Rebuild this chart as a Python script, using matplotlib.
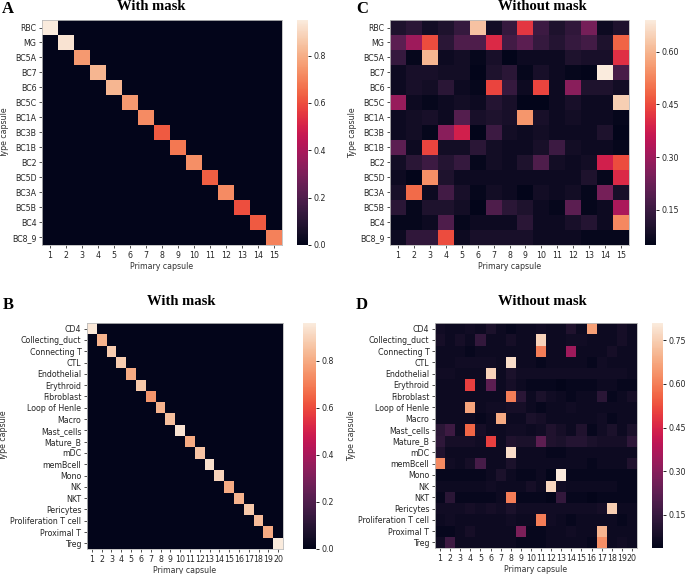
import numpy as np
import matplotlib
matplotlib.use("Agg")
import matplotlib.pyplot as plt
import seaborn as sns

# ---------------- data ----------------
retina_types = ["RBC", "MG", "BC5A", "BC7", "BC6", "BC5C", "BC1A", "BC3B", "BC1B",
                "BC2", "BC5D", "BC3A", "BC5B", "BC4", "BC8_9"]
retina_caps = [str(i) for i in range(1, 16)]
retina_mask_diag = [0.95, 0.93, 0.75, 0.82, 0.82, 0.75, 0.72, 0.62, 0.68, 0.73,
                    0.63, 0.72, 0.60, 0.62, 0.70]

retina_nomask = [
    [0.10, 0.12, 0.08, 0.10, 0.14, 0.62, 0.08, 0.14, 0.42, 0.15, 0.10, 0.13, 0.24, 0.07, 0.10],
    [0.20, 0.30, 0.45, 0.12, 0.18, 0.18, 0.40, 0.16, 0.20, 0.14, 0.11, 0.14, 0.16, 0.10, 0.48],
    [0.14, 0.06, 0.60, 0.07, 0.08, 0.06, 0.09, 0.05, 0.07, 0.07, 0.07, 0.10, 0.09, 0.09, 0.41],
    [0.07, 0.09, 0.09, 0.08, 0.08, 0.05, 0.10, 0.12, 0.06, 0.09, 0.07, 0.06, 0.05, 0.69, 0.17],
    [0.07, 0.09, 0.08, 0.12, 0.07, 0.06, 0.44, 0.14, 0.07, 0.44, 0.07, 0.27, 0.10, 0.10, 0.08],
    [0.29, 0.07, 0.06, 0.07, 0.08, 0.07, 0.11, 0.09, 0.05, 0.05, 0.07, 0.09, 0.07, 0.07, 0.64],
    [0.07, 0.08, 0.09, 0.07, 0.19, 0.09, 0.10, 0.09, 0.55, 0.09, 0.07, 0.08, 0.07, 0.07, 0.06],
    [0.07, 0.08, 0.06, 0.27, 0.38, 0.05, 0.15, 0.08, 0.07, 0.08, 0.07, 0.07, 0.07, 0.10, 0.05],
    [0.20, 0.07, 0.44, 0.08, 0.08, 0.12, 0.08, 0.07, 0.07, 0.09, 0.15, 0.08, 0.07, 0.07, 0.06],
    [0.08, 0.12, 0.15, 0.11, 0.14, 0.06, 0.08, 0.07, 0.10, 0.18, 0.08, 0.07, 0.08, 0.38, 0.45],
    [0.07, 0.05, 0.54, 0.10, 0.07, 0.07, 0.07, 0.07, 0.07, 0.07, 0.07, 0.07, 0.10, 0.06, 0.40],
    [0.09, 0.49, 0.07, 0.16, 0.09, 0.06, 0.08, 0.07, 0.05, 0.08, 0.07, 0.08, 0.06, 0.24, 0.09],
    [0.12, 0.06, 0.10, 0.10, 0.08, 0.05, 0.18, 0.12, 0.10, 0.07, 0.06, 0.20, 0.06, 0.07, 0.32],
    [0.06, 0.06, 0.07, 0.18, 0.06, 0.07, 0.07, 0.07, 0.12, 0.07, 0.07, 0.09, 0.11, 0.07, 0.53],
    [0.07, 0.13, 0.13, 0.45, 0.07, 0.09, 0.09, 0.09, 0.09, 0.07, 0.07, 0.07, 0.06, 0.06, 0.06],
]

kidney_types = ["CD4", "Collecting_duct", "Connecting T", "CTL", "Endothelial", "Erythroid",
                "Fibroblast", "Loop of Henle", "Macro", "Mast_cells", "Mature_B", "mDC",
                "memBcell", "Mono", "NK", "NKT", "Pericytes", "Proliferation T cell",
                "Proximal T", "Treg"]
kidney_caps = [str(i) for i in range(1, 21)]
kidney_mask_diag = [0.95, 0.82, 0.88, 0.88, 0.80, 0.87, 0.75, 0.82, 0.85, 0.94,
                    0.80, 0.86, 0.93, 0.90, 0.80, 0.82, 0.87, 0.84, 0.80, 0.96]

kidney_nomask = [
    [0.07, 0.06, 0.06, 0.07, 0.06, 0.09, 0.06, 0.05, 0.06, 0.06, 0.07, 0.06, 0.06, 0.10, 0.06, 0.66, 0.06, 0.06, 0.08, 0.06],
    [0.08, 0.06, 0.08, 0.06, 0.14, 0.06, 0.06, 0.08, 0.06, 0.06, 0.76, 0.06, 0.06, 0.07, 0.07, 0.06, 0.06, 0.06, 0.08, 0.06],
    [0.06, 0.06, 0.06, 0.05, 0.06, 0.06, 0.06, 0.06, 0.06, 0.06, 0.60, 0.06, 0.06, 0.34, 0.06, 0.06, 0.06, 0.08, 0.06, 0.06],
    [0.06, 0.06, 0.07, 0.07, 0.07, 0.07, 0.06, 0.78, 0.06, 0.06, 0.05, 0.06, 0.06, 0.06, 0.06, 0.05, 0.07, 0.06, 0.06, 0.06],
    [0.07, 0.07, 0.06, 0.06, 0.06, 0.76, 0.06, 0.09, 0.07, 0.07, 0.07, 0.07, 0.07, 0.07, 0.07, 0.07, 0.07, 0.07, 0.07, 0.06],
    [0.06, 0.06, 0.06, 0.50, 0.06, 0.22, 0.06, 0.08, 0.06, 0.05, 0.05, 0.05, 0.04, 0.05, 0.05, 0.05, 0.06, 0.06, 0.05, 0.05],
    [0.06, 0.06, 0.06, 0.06, 0.06, 0.06, 0.06, 0.60, 0.12, 0.06, 0.09, 0.07, 0.06, 0.05, 0.06, 0.06, 0.12, 0.05, 0.06, 0.08],
    [0.06, 0.06, 0.06, 0.67, 0.06, 0.07, 0.07, 0.08, 0.08, 0.06, 0.05, 0.06, 0.06, 0.07, 0.06, 0.06, 0.06, 0.06, 0.06, 0.06],
    [0.06, 0.06, 0.06, 0.06, 0.05, 0.06, 0.68, 0.06, 0.06, 0.09, 0.08, 0.06, 0.06, 0.06, 0.06, 0.06, 0.07, 0.05, 0.06, 0.06],
    [0.12, 0.16, 0.06, 0.56, 0.08, 0.06, 0.06, 0.07, 0.07, 0.06, 0.07, 0.10, 0.08, 0.06, 0.10, 0.05, 0.07, 0.09, 0.06, 0.09],
    [0.13, 0.08, 0.08, 0.08, 0.07, 0.50, 0.06, 0.10, 0.09, 0.09, 0.22, 0.10, 0.09, 0.11, 0.11, 0.09, 0.08, 0.08, 0.08, 0.13],
    [0.10, 0.06, 0.06, 0.06, 0.06, 0.06, 0.06, 0.78, 0.06, 0.06, 0.06, 0.05, 0.05, 0.06, 0.06, 0.06, 0.06, 0.06, 0.06, 0.06],
    [0.62, 0.07, 0.06, 0.08, 0.18, 0.06, 0.06, 0.09, 0.06, 0.06, 0.06, 0.06, 0.06, 0.06, 0.06, 0.05, 0.06, 0.06, 0.06, 0.10],
    [0.05, 0.05, 0.05, 0.05, 0.05, 0.06, 0.09, 0.06, 0.05, 0.05, 0.06, 0.035, 0.81, 0.05, 0.05, 0.05, 0.05, 0.05, 0.05, 0.05],
    [0.06, 0.06, 0.06, 0.06, 0.06, 0.07, 0.06, 0.06, 0.06, 0.08, 0.06, 0.77, 0.07, 0.06, 0.06, 0.06, 0.06, 0.06, 0.05, 0.05],
    [0.05, 0.12, 0.05, 0.05, 0.05, 0.05, 0.06, 0.60, 0.05, 0.05, 0.05, 0.04, 0.14, 0.05, 0.05, 0.04, 0.05, 0.05, 0.05, 0.05],
    [0.07, 0.07, 0.07, 0.08, 0.07, 0.08, 0.07, 0.09, 0.07, 0.07, 0.07, 0.07, 0.07, 0.07, 0.07, 0.07, 0.08, 0.75, 0.06, 0.06],
    [0.06, 0.07, 0.06, 0.06, 0.06, 0.06, 0.06, 0.07, 0.06, 0.06, 0.60, 0.07, 0.06, 0.05, 0.06, 0.06, 0.06, 0.06, 0.05, 0.06],
    [0.05, 0.05, 0.06, 0.08, 0.06, 0.06, 0.06, 0.06, 0.28, 0.05, 0.05, 0.06, 0.06, 0.07, 0.06, 0.06, 0.70, 0.06, 0.06, 0.06],
    [0.07, 0.16, 0.06, 0.06, 0.06, 0.06, 0.06, 0.06, 0.05, 0.05, 0.05, 0.06, 0.06, 0.06, 0.06, 0.05, 0.63, 0.06, 0.07, 0.06],
]

panel_titles = ["With mask", "Without mask", "With mask", "Without mask"]
panel_letters = ["A", "C", "B", "D"]

# ---------------- figure ----------------
W, H = 685, 574
fig = plt.figure(figsize=(W / 100, H / 100), dpi=100)
cmap = sns.color_palette("rocket", as_cmap=True)
FS = 5.7


def rect(x0, y0, x1, y1):
    return [x0 / W, 1 - y1 / H, (x1 - x0) / W, (y1 - y0) / H]


def draw(hm_box, cb_box, data, rows, cols, cticks, cfmt):
    ax = fig.add_axes(rect(*hm_box))
    cax = fig.add_axes(rect(*cb_box))
    data = np.asarray(data, dtype=float)
    mesh = ax.pcolormesh(data, cmap=cmap, vmin=data.min(), vmax=data.max())
    ax.set_xlim(0, data.shape[1])
    ax.set_ylim(data.shape[0], 0)
    ax.set_xticks(np.arange(data.shape[1]) + 0.5)
    ax.set_xticklabels(cols, fontsize=FS, color="#262626")
    ax.set_yticks(np.arange(data.shape[0]) + 0.5)
    ax.set_yticklabels(rows, fontsize=FS, color="#262626")
    ax.tick_params(length=2.5, width=0.6, pad=1.5, color="#333333")
    for s in ax.spines.values():
        s.set_color("#bbbbbb")
        s.set_linewidth(0.6)
    ax.set_xlabel("Primary capsule", fontsize=FS, labelpad=2, color="#333333")
    ax.set_ylabel("Type capsule", fontsize=FS, labelpad=2, color="#333333")
    cb = fig.colorbar(mesh, cax=cax)
    cb.outline.set_linewidth(0)
    cb.set_ticks(cticks)
    cb.ax.set_yticklabels([cfmt % t for t in cticks], fontsize=FS, color="#262626")
    cb.ax.tick_params(length=2.5, width=0.6, pad=1.5)
    return ax


retinaA = np.diag(retina_mask_diag)
kidneyB = np.diag(kidney_mask_diag)

draw((42, 20, 282, 245), (297, 20, 308, 245), retinaA, retina_types, retina_caps,
     [0.0, 0.2, 0.4, 0.6, 0.8], "%.1f")
draw((390, 20, 629, 245), (645, 20, 656, 245), retina_nomask, retina_types, retina_caps,
     [0.15, 0.30, 0.45, 0.60], "%.2f")
draw((87, 323, 283, 549), (303, 323, 316, 549), kidneyB, kidney_types, kidney_caps,
     [0.0, 0.2, 0.4, 0.6, 0.8], "%.1f")
draw((435, 323, 637, 548), (652, 323, 663, 548), kidney_nomask, kidney_types, kidney_caps,
     [0.15, 0.30, 0.45, 0.60, 0.75], "%.2f")

serif = ["Liberation Serif", "DejaVu Serif"]
title_pos = [(151, 9.5), (542, 9.5), (181, 305), (542, 305)]
letter_pos = [(2, 13), (356, 13), (3, 309), (356, 309)]
for (tx, ty), t in zip(title_pos, panel_titles):
    fig.text(tx / W, 1 - ty / H, t, ha="center", va="baseline",
             fontsize=10.5, fontweight="bold", family=serif)
for (lx, ly), l in zip(letter_pos, panel_letters):
    fig.text(lx / W, 1 - ly / H, l, ha="left", va="baseline",
             fontsize=12, fontweight="bold", family=serif)

fig.savefig("out.png", dpi=100)
